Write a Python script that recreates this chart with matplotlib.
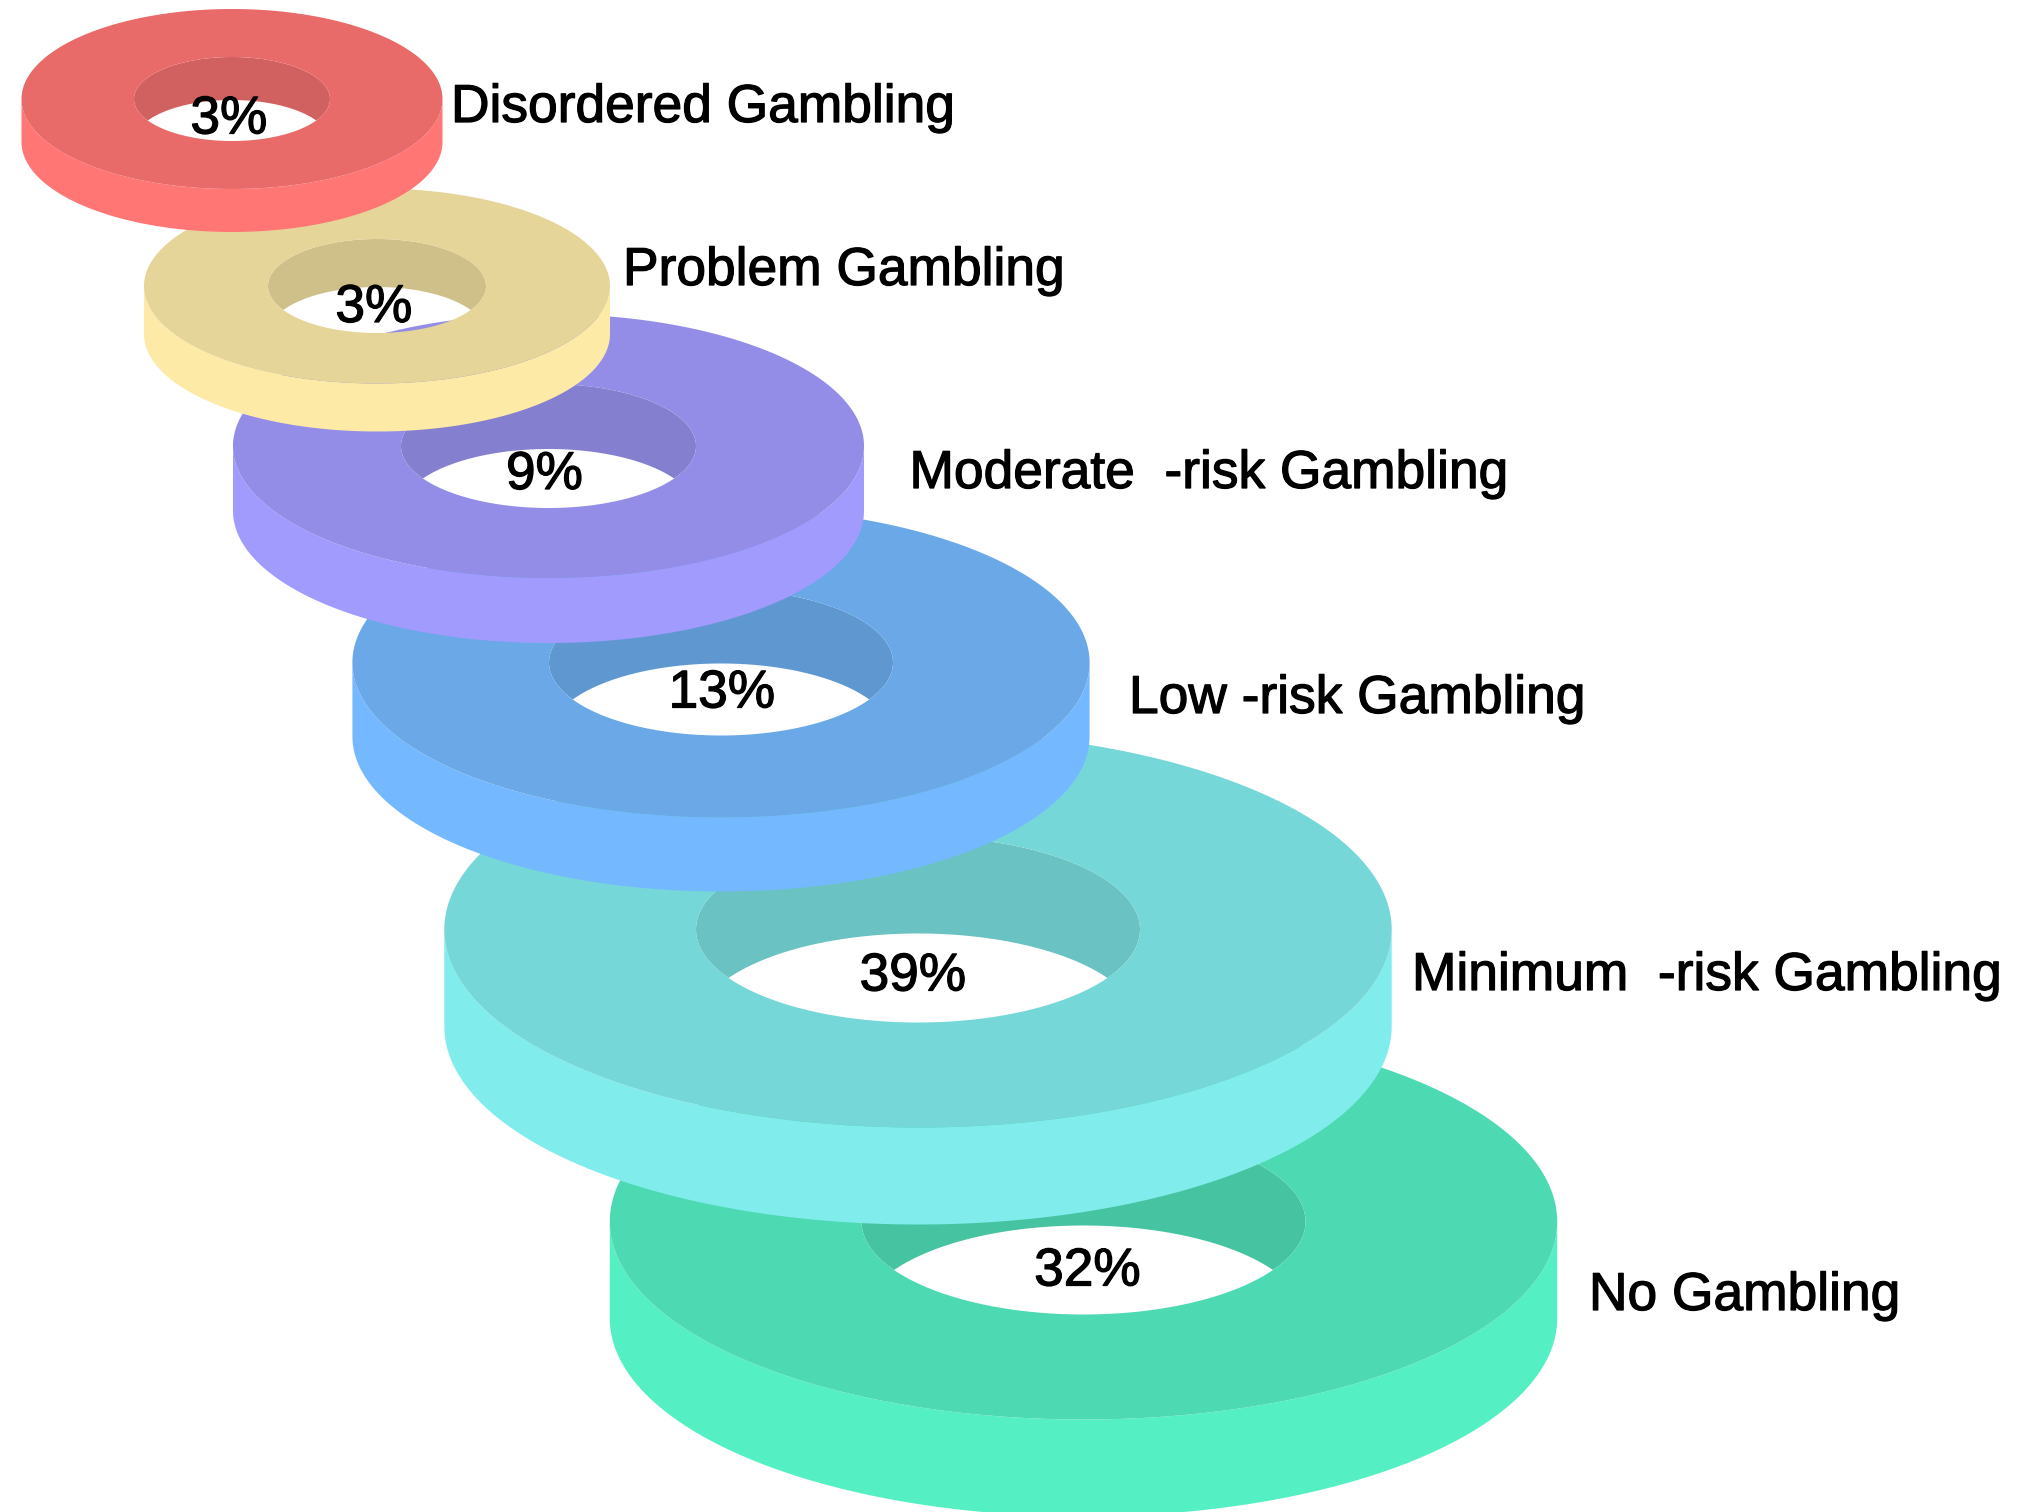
import numpy as np
import matplotlib
matplotlib.use("Agg")
import matplotlib.pyplot as plt
import matplotlib.patheffects as pe
from matplotlib.path import Path
from matplotlib.patches import PathPatch

# --- data (back to front) ---
categories = ["No Gambling", "Minimum  -risk Gambling", "Low -risk Gambling",
              "Moderate  -risk Gambling", "Problem Gambling", "Disordered Gambling"]
percent_values = [32, 39, 13, 9, 3, 3]
side_colors = ["#55EFC4", "#81ECEC", "#74B9FF", "#A29BFE", "#FDEAA7", "#FF7675"]

# --- layout, in reference pixels ---
W, H = 2028, 1512
centre_x = [1083.5, 918, 721, 548.5, 377, 232]
centre_y = [1221.5, 929.5, 662.5, 446, 286, 99]
outer_rx = [473.7, 473.7, 368.6, 315.5, 233, 210.5]
outer_ry = [198, 198, 155, 132, 97.5, 90]
inner_rx = [222, 222, 172, 147.5, 109, 98]
inner_ry = [93, 93, 73, 62, 47, 42]
depth = [97, 97, 74, 65, 48, 43]
label_x = [1589, 1412, 1129, 909.5, 623, 451]
label_y = [1310, 990, 713, 488, 285, 122]
pct_dx = [4, -5, 1, -4, -3, -3]
pct_dy = [50, 47, 31, 29, 22, 20.5]
TOP_SHADE, WALL_SHADE = 0.91, 0.82
FONT = ["Liberation Sans", "DejaVu Sans"]
LABEL_SIZE = 38.4
PCT_SIZE = 38.3
STROKE = [pe.withStroke(linewidth=0.9, foreground="black")]

t = np.linspace(0, 2 * np.pi, 361)


def ellipse(cx, cy, rx, ry, th=t):
    return np.column_stack([cx + rx * np.cos(th), cy + ry * np.sin(th)])


def outer_wall(cx, cy, rx, ry, d):
    """Front band between an ellipse and its copy shifted down by d."""
    th = np.linspace(0, np.pi, 181)  # y axis points down: this is the front half
    return np.vstack([ellipse(cx, cy, rx, ry, th), ellipse(cx, cy + d, rx, ry, th[::-1])])


def inner_wall(cx, cy, rx, ry, d):
    """Back of the hole: the top ellipse minus its copy shifted down by d."""
    cross = np.arcsin(min(1.0, d / (2 * ry)))  # where the two ellipses intersect
    rim = ellipse(cx, cy, rx, ry, np.linspace(np.pi - cross, 2 * np.pi + cross, 241))
    low = ellipse(cx, cy + d, rx, ry, np.linspace(2 * np.pi - cross, np.pi + cross, 181))
    return np.vstack([rim, low])


def shade(color, k):
    return tuple(k * c for c in matplotlib.colors.to_rgb(color))


fig = plt.figure(figsize=(W / 100, H / 100), dpi=100, facecolor="white")
ax = fig.add_axes([0, 0, 1, 1])
ax.set_xlim(0, W)
ax.set_ylim(H, 0)
ax.axis("off")

for i, name in enumerate(categories):
    cx, cy = centre_x[i], centre_y[i]
    rx, ry, irx, iry, d = outer_rx[i], outer_ry[i], inner_rx[i], inner_ry[i], depth[i]
    z = 2 + i * 3
    col = side_colors[i]

    wall = outer_wall(cx, cy, rx, ry, d)
    ax.fill(wall[:, 0], wall[:, 1], color=col, lw=0, zorder=z)
    back = inner_wall(cx, cy, irx, iry, d)
    ax.fill(back[:, 0], back[:, 1], color=shade(col, WALL_SHADE), lw=0, zorder=z)

    # top ring with a real hole
    o = ellipse(cx, cy, rx, ry)
    n = ellipse(cx, cy, irx, iry)[::-1]
    verts = np.vstack([o, n])
    codes = np.full(len(verts), Path.LINETO)
    codes[0] = Path.MOVETO
    codes[len(o)] = Path.MOVETO
    ax.add_patch(PathPatch(Path(verts, codes), facecolor=shade(col, TOP_SHADE), lw=0, zorder=z + 1))

    ax.text(cx + pct_dx[i], cy + pct_dy[i], f"{percent_values[i]}%", ha="center", va="center",
            fontsize=PCT_SIZE, family=FONT, color="black", zorder=50, path_effects=STROKE)
    ax.text(label_x[i], label_y[i], name, ha="left", va="baseline",
            fontsize=LABEL_SIZE, family=FONT, color="black", zorder=50, path_effects=STROKE)

fig.savefig("out.png", dpi=100, facecolor="white")
